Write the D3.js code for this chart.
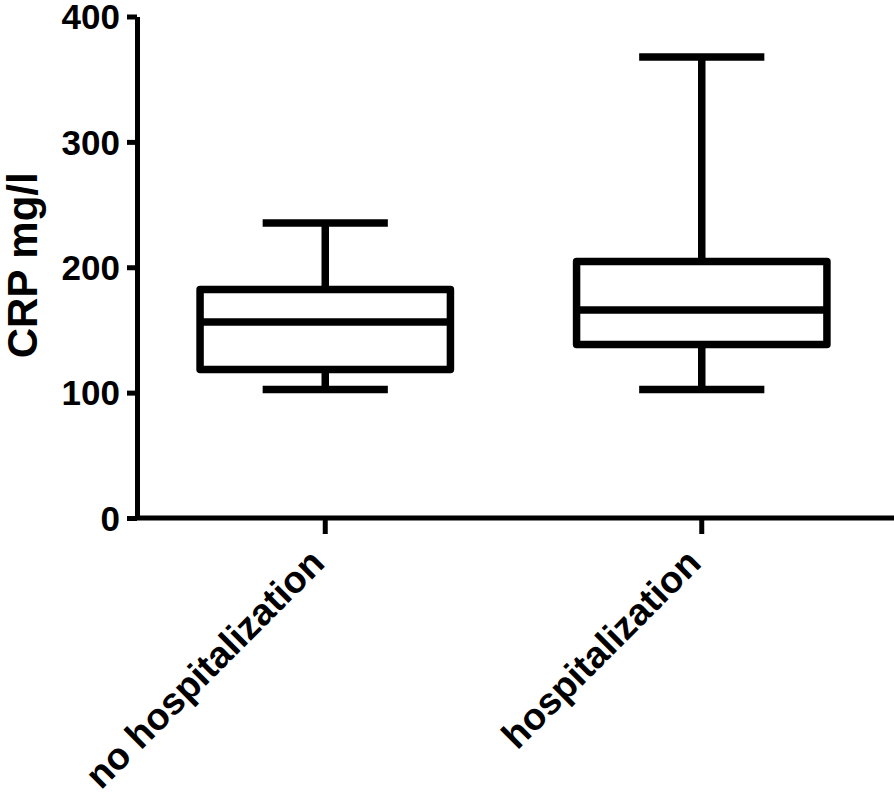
<!DOCTYPE html>
<html>
<head>
<meta charset="utf-8">
<script src="https://cdn.jsdelivr.net/npm/d3@7"></script>
<style>
  html, body { margin: 0; padding: 0; background: #fff; }
  svg { display: block; }
  text { font-family: "Liberation Sans", Arial, sans-serif; font-weight: bold; fill: #000; }
</style>
</head>
<body>
<svg id="chart"></svg>
<script>
// data
const groups  = ['no hospitalization', 'hospitalization'];
const mins    = [102.5, 102.5];
const q1s     = [118.4, 138.4];
const medians = [156.3, 165.9];
const q3s     = [182.2, 204.5];
const maxs    = [235.2, 367.6];
const yTicks  = [0, 100, 200, 300, 400];

const W = 894, H = 797;
const LW = 7.5;
const svg = d3.select('#chart').attr('width', W).attr('height', H);

const x = d3.scaleBand().domain(groups).range([137, 890]).paddingInner(0.335).paddingOuter(0.1675);
const y = d3.scaleLinear().domain([0, 400]).range([518, 16.5]);

// Y axis
const yAx = svg.append('g').attr('transform', 'translate(137,0)')
  .call(d3.axisLeft(y).tickValues(yTicks).tickSize(10).tickPadding(7).tickSizeOuter(0));
yAx.select('.domain').attr('stroke', '#000').attr('stroke-width', 5);
yAx.selectAll('.tick line').attr('stroke', '#000').attr('stroke-width', 5);
yAx.selectAll('.tick text').attr('font-size', 35).attr('font-family', null).attr('dy', '0.35em');

// X axis (line runs to the right edge)
const xAx = svg.append('g').attr('transform', 'translate(0,518)')
  .call(d3.axisBottom(x).tickSize(16).tickSizeOuter(0).tickFormat(''));
xAx.select('.domain').attr('stroke', '#000').attr('stroke-width', 5)
  .attr('d', `M137,0H${W}`);
xAx.selectAll('.tick line').attr('stroke', '#000').attr('stroke-width', 5);

svg.append('g').selectAll('text').data(groups).join('text')
  .attr('transform', d => `translate(${x(d) + x.bandwidth() / 2 - 18},546) rotate(-45)`)
  .attr('text-anchor', 'end').attr('dy', '0.72em')
  .attr('font-size', 37.5)
  .text(d => d);

// axis title
svg.append('text')
  .attr('transform', `translate(37,${y(200) - 2}) rotate(-90)`)
  .attr('text-anchor', 'middle')
  .attr('font-size', 42)
  .text('CRP mg/l');

// boxes
const boxes = svg.append('g').attr('fill', 'none').attr('stroke', '#000')
  .attr('stroke-width', LW).attr('stroke-linejoin', 'round');

groups.forEach((gName, i) => {
  const x0 = x(gName), bw = x.bandwidth(), cx = x0 + bw / 2, cw = bw / 2;
  // whiskers
  boxes.append('line').attr('x1', cx).attr('x2', cx).attr('y1', y(maxs[i])).attr('y2', y(q3s[i]));
  boxes.append('line').attr('x1', cx).attr('x2', cx).attr('y1', y(q1s[i])).attr('y2', y(mins[i]));
  boxes.append('line').attr('x1', cx - cw / 2).attr('x2', cx + cw / 2).attr('y1', y(maxs[i])).attr('y2', y(maxs[i]));
  boxes.append('line').attr('x1', cx - cw / 2).attr('x2', cx + cw / 2).attr('y1', y(mins[i])).attr('y2', y(mins[i]));
  // box
  boxes.append('rect').attr('x', x0).attr('width', bw)
    .attr('y', y(q3s[i])).attr('height', y(q1s[i]) - y(q3s[i]));
  // median
  boxes.append('line').attr('x1', x0).attr('x2', x0 + bw).attr('y1', y(medians[i])).attr('y2', y(medians[i]));
});
</script>
</body>
</html>
